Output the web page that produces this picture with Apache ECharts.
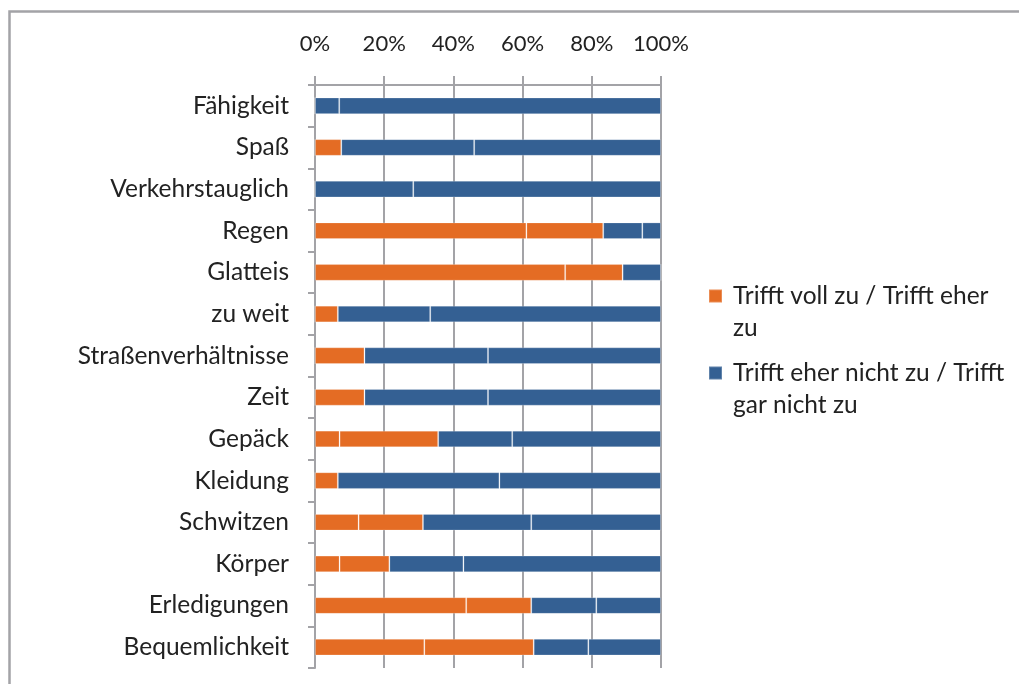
<!DOCTYPE html>
<html>
<head>
<meta charset="utf-8">
<script src="https://cdn.jsdelivr.net/npm/echarts@6/dist/echarts.min.js"></script>
<style>
html,body{margin:0;padding:0;background:#fff;}
#c{width:1019px;height:684px;}
</style>
</head>
<body>
<div id="c"></div>
<script>
const categories = ['Fähigkeit','Spaß','Verkehrstauglich','Regen','Glatteis','zu weit','Straßenverhältnisse','Zeit','Gepäck','Kleidung','Schwitzen','Körper','Erledigungen','Bequemlichkeit'];
const trifftVoll      = [0, 0, 0, 61.1, 72.3, 0, 0, 0, 7.1, 0, 12.6, 7.1, 43.7, 31.6];
const trifftEher      = [0, 7.6, 0, 22.2, 16.6, 6.6, 14.3, 14.3, 28.5, 6.6, 18.6, 14.4, 18.8, 31.6];
const trifftEherNicht = [7.0, 38.4, 28.4, 11.3, 11.1, 26.7, 35.7, 35.7, 21.4, 46.7, 31.3, 21.4, 18.8, 15.8];
const trifftGarNicht  = [93.0, 54.0, 71.6, 5.4, 0, 66.7, 50.0, 50.0, 43.0, 46.7, 37.5, 57.1, 18.7, 21.0];
const xTicks = [0, 20, 40, 60, 80, 100];
const legendNames = ['Trifft voll zu / Trifft eher zu', 'Trifft eher nicht zu / Trifft gar nicht zu'];
const legendLines = {
  'Trifft voll zu / Trifft eher zu': ' \nTrifft voll zu / Trifft eher\nzu',
  'Trifft eher nicht zu / Trifft gar nicht zu': ' \nTrifft eher nicht zu / Trifft\ngar nicht zu'
};

const ORANGE = '#E46C24';
const BLUE = '#346093';
const GRAY = '#a3a3a7';
const FONT = 'Lato';

const chart = echarts.init(document.getElementById('c'), null, {renderer: 'canvas'});

function barSeries(name, data, color) {
  return {
    name: name,
    type: 'bar',
    stack: 'total',
    data: data,
    barWidth: '40%',
    itemStyle: {color: color, borderColor: 'rgba(255,255,255,0.22)', borderWidth: 1},
    emphasis: {disabled: true}
  };
}

function legendCfg(name, top) {
  return {
    data: [{name: name, icon: 'rect'}],
    left: 708,
    top: top,
    padding: 0,
    itemWidth: 13,
    itemHeight: 13,
    itemGap: 0,
    selectedMode: false,
    formatter: n => legendLines[n],
    textStyle: {
      fontFamily: FONT, fontSize: 24.5, color: '#222', lineHeight: 32,
      padding: [0, 0, 0, 6]
    }
  };
}

chart.setOption({
  animation: false,
  backgroundColor: '#fff',
  textStyle: {fontFamily: FONT},
  graphic: [{
    type: 'rect',
    shape: {x: 9.5, y: 11.5, width: 1030, height: 700},
    style: {fill: 'none', stroke: GRAY, lineWidth: 2.5},
    silent: true
  }],
  legend: [
    legendCfg(legendNames[0], 248),
    legendCfg(legendNames[1], 325)
  ],
  grid: {left: 315, top: 85, right: 358, bottom: 16, containLabel: false},
  xAxis: {
    type: 'value',
    position: 'top',
    min: 0, max: 100, interval: 20,
    axisLine: {show: true, lineStyle: {color: GRAY, width: 2}},
    axisTick: {show: true, length: 9, lineStyle: {color: GRAY, width: 2}},
    splitLine: {show: true, lineStyle: {color: GRAY, width: 2}},
    axisLabel: {
      margin: 30, fontFamily: FONT, fontSize: 22, color: '#222',
      formatter: v => xTicks.indexOf(v) >= 0 ? v + '%' : ''
    }
  },
  yAxis: {
    type: 'category',
    data: categories,
    inverse: true,
    axisLine: {show: true, lineStyle: {color: GRAY, width: 2}},
    axisTick: {show: true, length: 7, lineStyle: {color: GRAY, width: 2}},
    axisLabel: {margin: 26, fontFamily: FONT, fontSize: 24.5, color: '#222'}
  },
  series: [
    barSeries(legendNames[0], trifftVoll, ORANGE),
    barSeries(legendNames[0], trifftEher, ORANGE),
    barSeries(legendNames[1], trifftEherNicht, BLUE),
    barSeries(legendNames[1], trifftGarNicht, BLUE)
  ]
});
</script>
</body>
</html>
